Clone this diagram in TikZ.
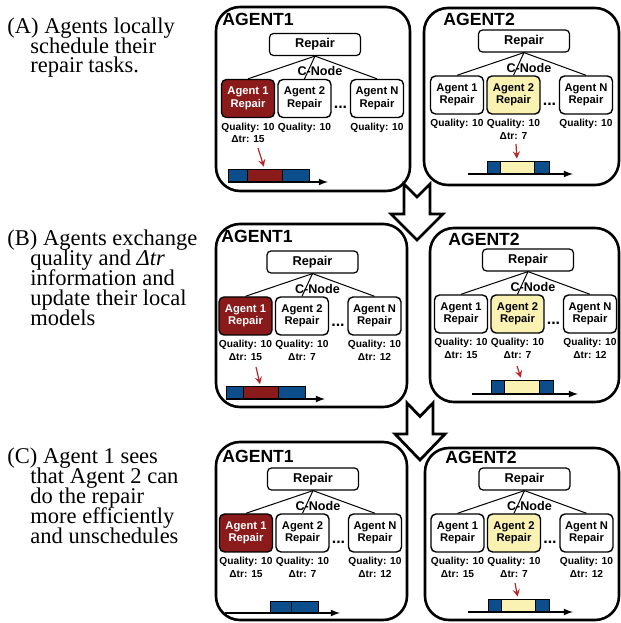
\documentclass[tikz,border=0pt]{standalone}
\usepackage{fontspec}
\setmainfont{Liberation Serif}
\setsansfont{Liberation Sans}
\usepackage{tikz}
\definecolor{repairRed}{HTML}{8B1A1A}
\definecolor{repairYellow}{HTML}{FAF2B2}
\definecolor{slotBlue}{HTML}{0C4E8C}
\definecolor{pointerRed}{HTML}{B8262B}
\usetikzlibrary{arrows}
\newcommand{\phaseFont}{\fontsize{11.25}{10}\selectfont\lineskiplimit -10pt\relax}
\tikzstyle{panel} = [rectangle, draw, line width = 1.3pt, rounded corners = 12pt]
\tikzstyle{agentName} = [font = \sffamily\bfseries\fontsize{8.8}{10}\selectfont, inner sep = 0pt, anchor = base west]
\tikzstyle{repairRoot} = [rectangle, draw, line width = 0.6pt, rounded corners = 2pt, minimum width = 45.5pt, minimum height = 11pt, inner sep = 0pt, font = \sffamily\bfseries\fontsize{6.4}{7}\selectfont]
\tikzstyle{block} = [rectangle, draw, fill = white, line width = 0.7pt, rounded corners = 2.5pt, minimum width = 26.5pt, minimum height = 19pt, inner sep = 0pt, align = center, font = \sffamily\bfseries\fontsize{5.6}{6.25}\selectfont]
\tikzstyle{blockOwn} = [block, fill = repairRed, text = white]
\tikzstyle{blockBest} = [block, fill = repairYellow]
\tikzstyle{qualText} = [inner sep = 0pt, font = \sffamily\bfseries\fontsize{5.1}{6}\selectfont]
\tikzstyle{cnode} = [inner sep = 0pt, font = \sffamily\bfseries\fontsize{6.3}{7}\selectfont]
\tikzstyle{etc} = [inner sep = 0pt, font = \sffamily\bfseries\fontsize{8}{8}\selectfont]
\tikzstyle{slot} = [rectangle, draw, line width = 0.4pt, inner sep = 0pt, minimum height = 6.5pt]
\tikzstyle{slotB} = [slot, fill = slotBlue]
\tikzstyle{slotR} = [slot, fill = repairRed]
\tikzstyle{slotY} = [slot, fill = repairYellow]
\tikzstyle{line} = [line width = 0.5pt]
\tikzstyle{timeline} = [line width = 0.6pt, -latex]
\tikzstyle{pointer} = [draw = pointerRed, line width = 0.6pt, ->, >= stealth, shorten > = 1pt]
\tikzstyle{bigArrow} = [line width = 1.4pt, fill = white]
\tikzstyle{phaseText} = [anchor = base west, inner sep = 0pt, align = left, font = \phaseFont]

\begin{document}
\begin{tikzpicture}[x = 0.5pt, y = 0.5pt]
        \useasboundingbox (0, 0) rectangle (621, 623);
        % captions (anchored at their last line)
        \node(phaseA) [phaseText] at (7, 550) {(A) Agents locally\\\hspace*{11.5pt}schedule their\\\hspace*{11.5pt}repair tasks.};
        \node(phaseB) [phaseText] at (7, 298) {(B) Agents exchange\\\hspace*{11.5pt}quality and \textit{Δtr}\\\hspace*{11.5pt}information and\\\hspace*{11.5pt}update their local\\\hspace*{11.5pt}models};
        \node(phaseC) [phaseText] at (7, 80) {(C) Agent 1 sees\\\hspace*{11.5pt}that Agent 2 can\\\hspace*{11.5pt}do the repair\\\hspace*{11.5pt}more efficiently\\\hspace*{11.5pt}and unschedules};

        % (A) agent 1
        \node(panelA1) [panel, minimum width = 97pt, minimum height = 92pt] at (313, 524) {};
        \node(nameA1) [agentName] at (222, 597) {AGENT1};
        \node(rootA1) [repairRoot] at (315, 578.5) {Repair};
        \coordinate[below of = rootA1, node distance = 27pt] (belowofRootA1);
        \node(ag1A1) [blockOwn, left of = belowofRootA1, node distance = 33.5pt] {Agent 1\\Repair};
        \node(ag2A1) [block, left of = belowofRootA1, node distance = 5.25pt] {Agent 2\\Repair};
        \node(agNA1) [block, right of = belowofRootA1, node distance = 31pt] {Agent N\\Repair};
        \node(cnodeA1) [cnode, below of = rootA1, node distance = 13.25pt, xshift = 2.5pt] {C-Node};
        \node(etcA1) [etc, right of = ag2A1, node distance = 18pt, yshift = -4.5pt] {...};
        \node(q1A1) [qualText, below of = ag1A1, node distance = 14.5pt] {Quality: 10};
        \node(q2A1) [qualText, below of = ag2A1, node distance = 14.5pt] {Quality: 10};
        \node(qNA1) [qualText, below of = agNA1, node distance = 14.5pt] {Quality: 10};
        \node(d1A1) [qualText, below of = q1A1, node distance = 6pt] {Δtr: 15};
        \draw[line] (rootA1.south) -- (ag1A1.north);
        \draw[line] (rootA1.south) -- (ag2A1.north);
        \draw[line] (rootA1.south) -- (agNA1.north);
        \node(slotA1) [slotR, minimum width = 17.5pt] at (264.5, 447.5) {};
        \node(leftofSlotA1) [slotB, left of = slotA1, node distance = 13.5pt, minimum width = 9.5pt] {};
        \node(rightofSlotA1) [slotB, right of = slotA1, node distance = 15.5pt, minimum width = 13.5pt] {};
        \coordinate(startA1) at (228, 441);
        \coordinate(endA1) at (328, 441);
        \draw[timeline] (startA1) -- (endA1);
        \coordinate(pointerA1) at (258, 475);
        \draw[pointer] (pointerA1) -- (slotA1.north);

        % (A) agent 2
        \node(panelA2) [panel, minimum width = 97.5pt, minimum height = 88.5pt] at (521.5, 526.5) {};
        \node(nameA2) [agentName] at (443, 597) {AGENT2};
        \node(rootA2) [repairRoot] at (524, 582) {Repair};
        \coordinate[below of = rootA2, node distance = 27pt] (belowofRootA2);
        \node(ag1A2) [block, left of = belowofRootA2, node distance = 33.5pt] {Agent 1\\Repair};
        \node(ag2A2) [blockBest, left of = belowofRootA2, node distance = 5.25pt] {Agent 2\\Repair};
        \node(agNA2) [block, right of = belowofRootA2, node distance = 31pt] {Agent N\\Repair};
        \node(cnodeA2) [cnode, below of = rootA2, node distance = 13.25pt, xshift = 2.5pt] {C-Node};
        \node(etcA2) [etc, right of = ag2A2, node distance = 18pt, yshift = -4.5pt] {...};
        \node(q1A2) [qualText, below of = ag1A2, node distance = 14.5pt] {Quality: 10};
        \node(q2A2) [qualText, below of = ag2A2, node distance = 14.5pt] {Quality: 10};
        \node(qNA2) [qualText, below of = agNA2, node distance = 14.5pt] {Quality: 10};
        \node(d2A2) [qualText, below of = q2A2, node distance = 6pt] {Δtr: 7};
        \draw[line] (rootA2.south) -- (ag1A2.north);
        \draw[line] (rootA2.south) -- (ag2A2.north);
        \draw[line] (rootA2.south) -- (agNA2.north);
        \node(slotA2) [slotY, minimum width = 17pt] at (517, 455.5) {};
        \node(leftofSlotA2) [slotB, left of = slotA2, node distance = 11.75pt, minimum width = 6.5pt] {};
        \node(rightofSlotA2) [slotB, right of = slotA2, node distance = 12.25pt, minimum width = 7.5pt] {};
        \coordinate(startA2) at (468, 449);
        \coordinate(endA2) at (573, 449);
        \draw[timeline] (startA2) -- (endA2);
        \coordinate(pointerA2) at (516, 479);
        \draw[pointer] (pointerA2) -- (slotA2.north);

        % (B) agent 1
        \node(panelB1) [panel, minimum width = 95.5pt, minimum height = 91.5pt] at (311.5, 307.5) {};
        \node(nameB1) [agentName] at (221, 380) {AGENT1};
        \node(rootB1) [repairRoot] at (312.5, 361) {Repair};
        \coordinate[below of = rootB1, node distance = 27pt] (belowofRootB1);
        \node(ag1B1) [blockOwn, left of = belowofRootB1, node distance = 33.5pt] {Agent 1\\Repair};
        \node(ag2B1) [block, left of = belowofRootB1, node distance = 5.25pt] {Agent 2\\Repair};
        \node(agNB1) [block, right of = belowofRootB1, node distance = 31pt] {Agent N\\Repair};
        \node(cnodeB1) [cnode, below of = rootB1, node distance = 13.25pt, xshift = 2.5pt] {C-Node};
        \node(etcB1) [etc, right of = ag2B1, node distance = 18pt, yshift = -4.5pt] {...};
        \node(q1B1) [qualText, below of = ag1B1, node distance = 14.5pt] {Quality: 10};
        \node(q2B1) [qualText, below of = ag2B1, node distance = 14.5pt] {Quality: 10};
        \node(qNB1) [qualText, below of = agNB1, node distance = 14.5pt] {Quality: 10};
        \node(d1B1) [qualText, below of = q1B1, node distance = 6pt] {Δtr: 15};
        \node(d2B1) [qualText, below of = q2B1, node distance = 6pt] {Δtr: 7};
        \node(dNB1) [qualText, below of = qNB1, node distance = 6pt] {Δtr: 12};
        \draw[line] (rootB1.south) -- (ag1B1.north);
        \draw[line] (rootB1.south) -- (ag2B1.north);
        \draw[line] (rootB1.south) -- (agNB1.north);
        \node(slotB1) [slotR, minimum width = 17.5pt] at (260.5, 230) {};
        \node(leftofSlotB1) [slotB, left of = slotB1, node distance = 13pt, minimum width = 8.5pt] {};
        \node(rightofSlotB1) [slotB, right of = slotB1, node distance = 15.5pt, minimum width = 13.5pt] {};
        \coordinate(startB1) at (226, 224);
        \coordinate(endB1) at (325, 224);
        \draw[timeline] (startB1) -- (endB1);
        \coordinate(pointerB1) at (256, 256);
        \draw[pointer] (pointerB1) -- (slotB1.north);

        % (B) agent 2
        \node(panelB2) [panel, minimum width = 94.5pt, minimum height = 87pt] at (524.5, 308) {};
        \node(nameB2) [agentName] at (448, 378) {AGENT2};
        \node(rootB2) [repairRoot] at (528, 363) {Repair};
        \coordinate[below of = rootB2, node distance = 27pt] (belowofRootB2);
        \node(ag1B2) [block, left of = belowofRootB2, node distance = 33.5pt] {Agent 1\\Repair};
        \node(ag2B2) [blockBest, left of = belowofRootB2, node distance = 5.25pt] {Agent 2\\Repair};
        \node(agNB2) [block, right of = belowofRootB2, node distance = 31pt] {Agent N\\Repair};
        \node(cnodeB2) [cnode, below of = rootB2, node distance = 13.25pt, xshift = 2.5pt] {C-Node};
        \node(etcB2) [etc, right of = ag2B2, node distance = 18pt, yshift = -4.5pt] {...};
        \node(q1B2) [qualText, below of = ag1B2, node distance = 14.5pt] {Quality: 10};
        \node(q2B2) [qualText, below of = ag2B2, node distance = 14.5pt] {Quality: 10};
        \node(qNB2) [qualText, below of = agNB2, node distance = 14.5pt] {Quality: 10};
        \node(d1B2) [qualText, below of = q1B2, node distance = 6pt] {Δtr: 15};
        \node(d2B2) [qualText, below of = q2B2, node distance = 6pt] {Δtr: 7};
        \node(dNB2) [qualText, below of = qNB2, node distance = 6pt] {Δtr: 12};
        \draw[line] (rootB2.south) -- (ag1B2.north);
        \draw[line] (rootB2.south) -- (ag2B2.north);
        \draw[line] (rootB2.south) -- (agNB2.north);
        \node(slotB2) [slotY, minimum width = 17.5pt, minimum height = 7pt] at (521.5, 236) {};
        \node(leftofSlotB2) [slotB, left of = slotB2, node distance = 12pt, minimum width = 6.5pt, minimum height = 7pt] {};
        \node(rightofSlotB2) [slotB, right of = slotB2, node distance = 12.25pt, minimum width = 7pt, minimum height = 7pt] {};
        \coordinate(startB2) at (472, 229);
        \coordinate(endB2) at (578, 229);
        \draw[timeline] (startB2) -- (endB2);
        \coordinate(pointerB2) at (517, 257);
        \draw[pointer] (pointerB2) -- (slotB2.north);

        % (C) agent 1
        \node(panelC1) [panel, minimum width = 95.5pt, minimum height = 89pt] at (311.5, 92) {};
        \node(nameC1) [agentName] at (222, 161) {AGENT1};
        \node(rootC1) [repairRoot] at (313, 144) {Repair};
        \coordinate[below of = rootC1, node distance = 27pt] (belowofRootC1);
        \node(ag1C1) [blockOwn, left of = belowofRootC1, node distance = 33.5pt] {Agent 1\\Repair};
        \node(ag2C1) [block, left of = belowofRootC1, node distance = 5.25pt] {Agent 2\\Repair};
        \node(agNC1) [block, right of = belowofRootC1, node distance = 31pt] {Agent N\\Repair};
        \node(cnodeC1) [cnode, below of = rootC1, node distance = 13.25pt, xshift = 2.5pt] {C-Node};
        \node(etcC1) [etc, right of = ag2C1, node distance = 18pt, yshift = -4.5pt] {...};
        \node(q1C1) [qualText, below of = ag1C1, node distance = 14.5pt] {Quality: 10};
        \node(q2C1) [qualText, below of = ag2C1, node distance = 14.5pt] {Quality: 10};
        \node(qNC1) [qualText, below of = agNC1, node distance = 14.5pt] {Quality: 10};
        \node(d1C1) [qualText, below of = q1C1, node distance = 6pt] {Δtr: 15};
        \node(d2C1) [qualText, below of = q2C1, node distance = 6pt] {Δtr: 7};
        \node(dNC1) [qualText, below of = qNC1, node distance = 6pt] {Δtr: 12};
        \draw[line] (rootC1.south) -- (ag1C1.north);
        \draw[line] (rootC1.south) -- (ag2C1.north);
        \draw[line] (rootC1.south) -- (agNC1.north);
        \node(slotC1) [slotB, minimum width = 10.5pt, minimum height = 6pt] at (280.5, 16) {};
        \node(rightofSlotC1) [slotB, right of = slotC1, node distance = 12pt, minimum width = 13.5pt, minimum height = 6pt] {};
        \coordinate(startC1) at (225, 10);
        \coordinate(endC1) at (340, 10);
        \draw[timeline] (startC1) -- (endC1);

        % (C) agent 2
        \node(panelC2) [panel, minimum width = 97pt, minimum height = 86pt] at (522, 89) {};
        \node(nameC2) [agentName] at (445, 159) {AGENT2};
        \node(rootC2) [repairRoot] at (524.5, 144) {Repair};
        \coordinate[below of = rootC2, node distance = 27pt] (belowofRootC2);
        \node(ag1C2) [block, left of = belowofRootC2, node distance = 33.5pt] {Agent 1\\Repair};
        \node(ag2C2) [blockBest, left of = belowofRootC2, node distance = 5.25pt] {Agent 2\\Repair};
        \node(agNC2) [block, right of = belowofRootC2, node distance = 31pt] {Agent N\\Repair};
        \node(cnodeC2) [cnode, below of = rootC2, node distance = 13.25pt, xshift = 2.5pt] {C-Node};
        \node(etcC2) [etc, right of = ag2C2, node distance = 18pt, yshift = -4.5pt] {...};
        \node(q1C2) [qualText, below of = ag1C2, node distance = 14.5pt] {Quality: 10};
        \node(q2C2) [qualText, below of = ag2C2, node distance = 14.5pt] {Quality: 10};
        \node(qNC2) [qualText, below of = agNC2, node distance = 14.5pt] {Quality: 10};
        \node(d1C2) [qualText, below of = q1C2, node distance = 6pt] {Δtr: 15};
        \node(d2C2) [qualText, below of = q2C2, node distance = 6pt] {Δtr: 7};
        \node(dNC2) [qualText, below of = qNC2, node distance = 6pt] {Δtr: 12};
        \draw[line] (rootC2.south) -- (ag1C2.north);
        \draw[line] (rootC2.south) -- (ag2C2.north);
        \draw[line] (rootC2.south) -- (agNC2.north);
        \node(slotC2) [slotY, minimum width = 17pt] at (518, 17.5) {};
        \node(leftofSlotC2) [slotB, left of = slotC2, node distance = 11.75pt, minimum width = 6.5pt] {};
        \node(rightofSlotC2) [slotB, right of = slotC2, node distance = 12pt, minimum width = 7pt] {};
        \coordinate(startC2) at (468, 11);
        \coordinate(endC2) at (573, 11);
        \draw[timeline] (startC2) -- (endC2);
        \coordinate(pointerC2) at (515, 40);
        \draw[pointer] (pointerC2) -- (slotC2.north);

        % hollow arrows between the steps
        \draw[bigArrow] (404, 439) -- (417, 426) -- (430, 439) -- (430, 409) -- (443, 409) -- (417, 383) -- (391, 409) -- (404, 409) -- cycle;
        \draw[bigArrow] (407, 220) -- (420, 206.5) -- (433, 220) -- (433, 189) -- (445, 189) -- (420, 163) -- (395, 189) -- (407, 189) -- cycle;
    \end{tikzpicture}
\end{document}
